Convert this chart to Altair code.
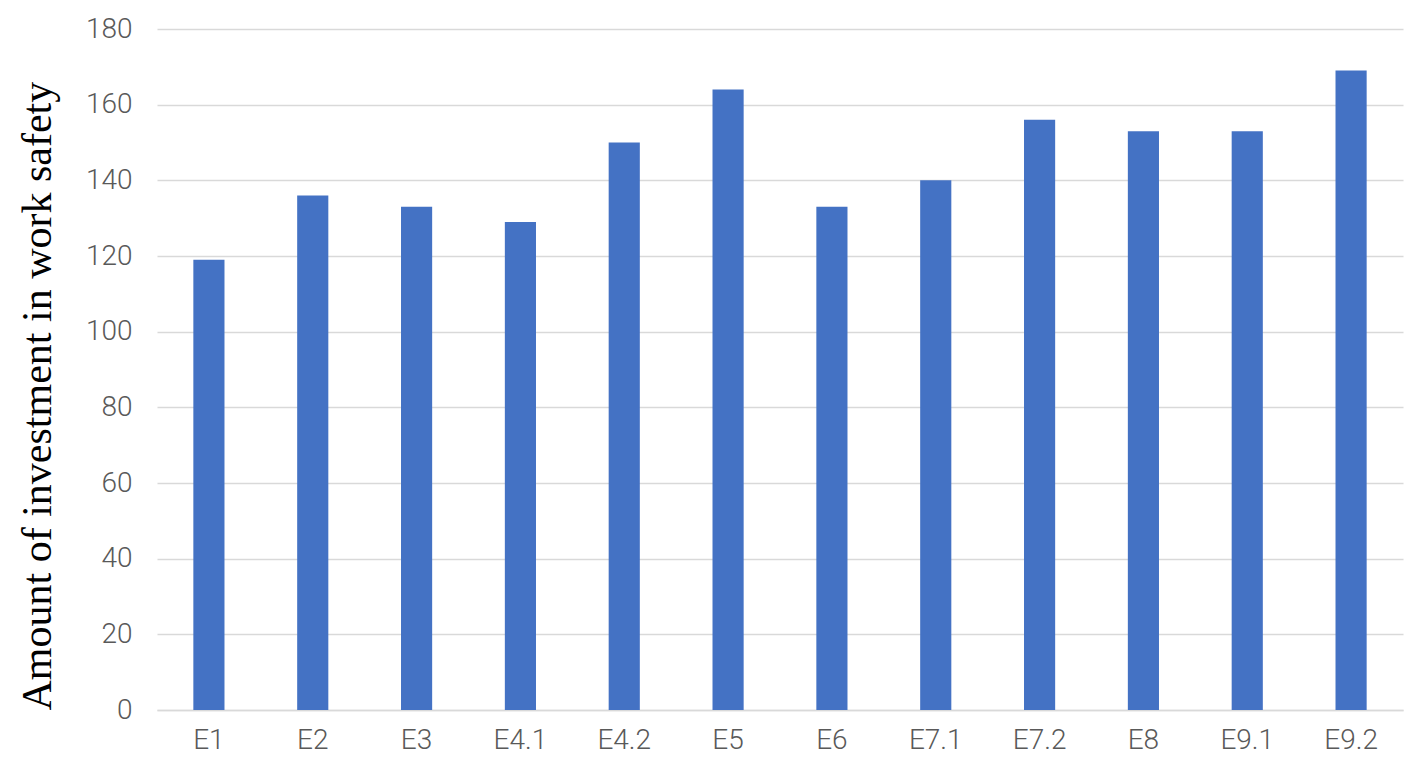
import altair as alt
import pandas as pd

categories = ["E1", "E2", "E3", "E4.1", "E4.2", "E5", "E6", "E7.1", "E7.2", "E8", "E9.1", "E9.2"]
values = [119, 136, 133, 129, 150, 164, 133, 140, 156, 153, 153, 169]

df = pd.DataFrame({"cat": categories, "val": values})

chart = alt.Chart(df).mark_bar(color="#4472C4").encode(
    x=alt.X("cat:N", sort=categories, title=None,
            scale=alt.Scale(paddingInner=0.7, paddingOuter=0.35),
            axis=alt.Axis(labelAngle=0, labelFont="Roboto", labelFontSize=28,
                          labelFontWeight=300,
                          labelColor="#595959", labelPadding=16, ticks=False,
                          domainColor="#d9d9d9", domainWidth=1.5, grid=False)),
    y=alt.Y("val:Q", title="Amount of investment in work safety",
            scale=alt.Scale(domain=[0, 180]),
            axis=alt.Axis(values=list(range(0, 181, 20)), labelFont="Roboto",
                          labelFontSize=28, labelFontWeight=300,
                          labelColor="#595959", labelPadding=25,
                          ticks=False, domain=False, gridColor="#d9d9d9", gridWidth=1.5,
                          titleFont="Liberation Serif", titleFontSize=42,
                          titleFontWeight="normal", titleColor="#000000",
                          titleAnchor="start", titlePadding=26)),
).properties(
    width=1246, height=681,
    autosize=alt.AutoSizeParams(type="none"),
    padding={"left": 149, "top": 21, "right": 6, "bottom": 46},
).configure_view(stroke=None)

chart.save("out.html", embed_options={"renderer": "svg", "actions": False})
